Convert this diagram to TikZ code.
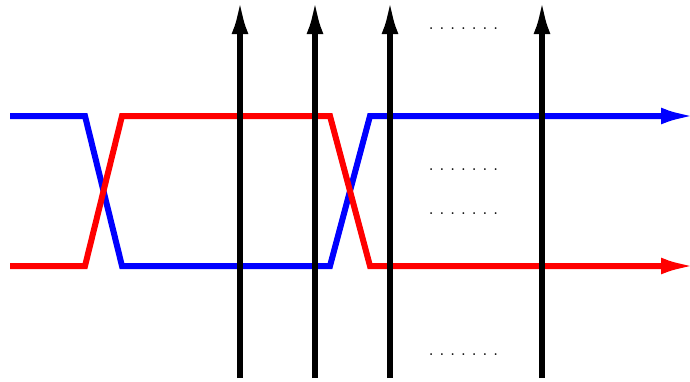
\documentclass[tikz,border=0pt]{standalone}
\usetikzlibrary{arrows.meta}
\newcommand{\dotrow}{\bfseries.\kern6pt.\kern6pt.\kern6pt.\kern6pt.\kern6pt.\kern6pt.}
\tikzset{
  wire/.style={line width=0.18cm,-{Latex[length=1.05cm,width=0.5cm]}},
  track/.style={line width=0.18cm,-{Latex[length=1.05cm,width=0.5cm]}},
}
\begin{document}
\begin{tikzpicture}[x=0.03cm,y=-0.03cm]
  \useasboundingbox (0,0) rectangle (690,381);
  % corner points of the two wires
  \coordinate (bs) at (10,116);  \coordinate (b1) at (85,116);  \coordinate (b2) at (122,266);
  \coordinate (b3) at (330,266); \coordinate (b4) at (370,116); \coordinate (be) at (696,116);
  \coordinate (rs) at (10,266);  \coordinate (r1) at (85,266);  \coordinate (r2) at (122,116);
  \coordinate (r3) at (330,116); \coordinate (r4) at (370,266); \coordinate (re) at (696,266);
  \draw[wire,blue] (bs) -- (b1) -- (b2) -- (b3) -- (b4) -- (be);
  \draw[wire,red] (rs) -- (r1) -- (r2) -- (r3) -- (r4) -- (re);
  \foreach \x/\n in {240/a,315/b,390/c,542/d} {
    \coordinate (low\n) at (\x,378); \coordinate (top\n) at (\x,-1);
    \draw[track] (low\n) -- (top\n);
  }
  \foreach \y/\n in {29/1,170/2,214/3,355/4} \node[anchor=base,inner sep=0pt] (dots\n) at (463.5,\y) {\dotrow};
\end{tikzpicture}
\end{document}
